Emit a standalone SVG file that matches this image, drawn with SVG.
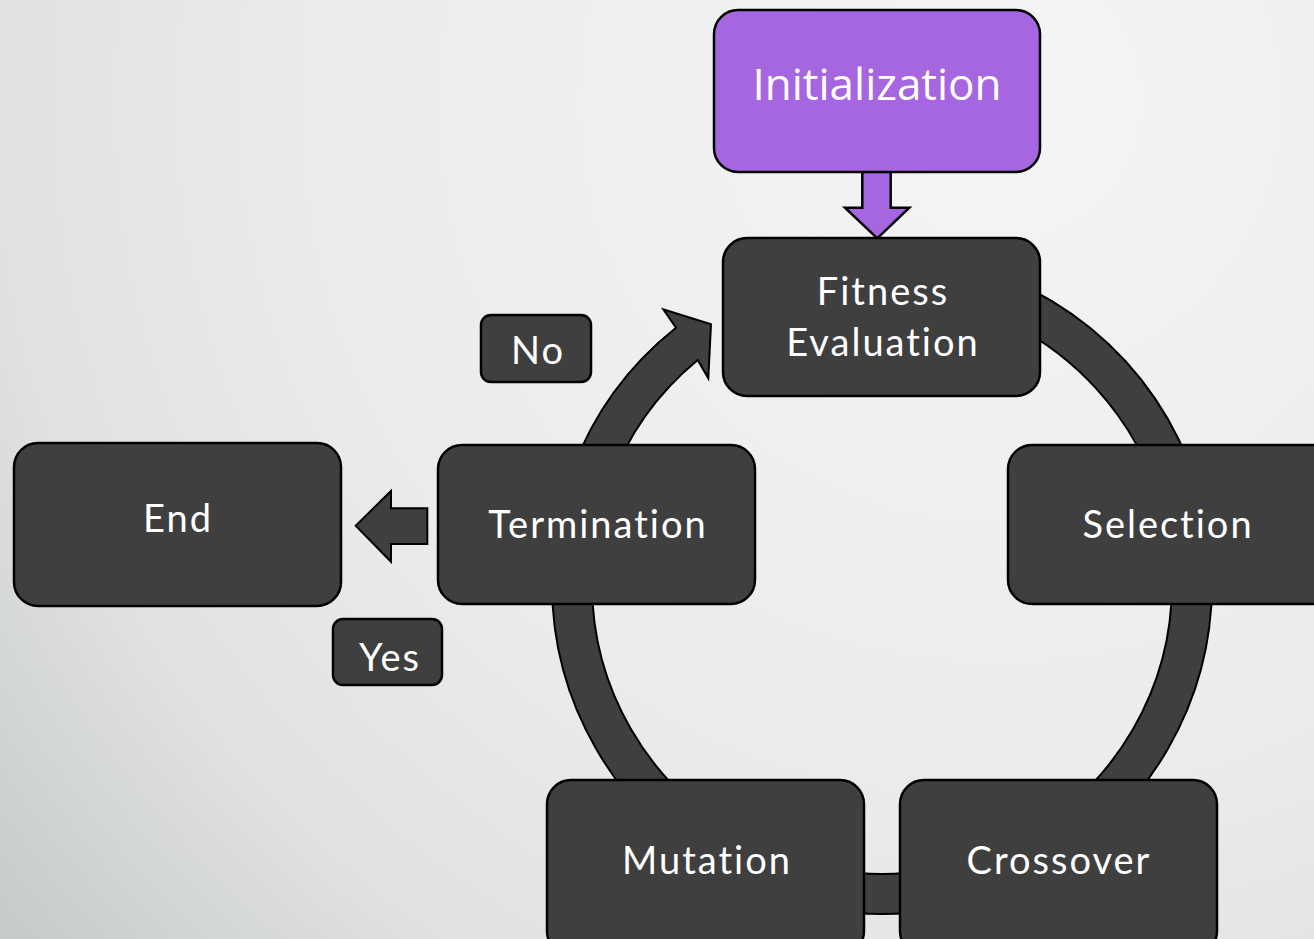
<svg xmlns="http://www.w3.org/2000/svg" width="1314" height="939" viewBox="0 0 1314 939">
<defs>
<radialGradient id="bg" cx="1000" cy="100" r="1400" gradientUnits="userSpaceOnUse">
<stop offset="0" stop-color="#f5f5f5"/>
<stop offset="0.5" stop-color="#ebebeb"/>
<stop offset="0.72" stop-color="#e0e1e1"/>
<stop offset="0.93" stop-color="#c6cacb"/>
<stop offset="1" stop-color="#c2c6c7"/>
</radialGradient>
<style>
.box{fill:#3f3f3f;stroke:#000;stroke-width:2.5}
.seg{fill:#3f3f3f;stroke:#000;stroke-width:2}
.pur{fill:#a566e0;stroke:#000;stroke-width:2.5}
.t{fill:#fff;font-family:Lato,"Liberation Sans",sans-serif;font-size:38px;letter-spacing:2px;text-anchor:middle;font-variant-ligatures:none}
.ti{fill:#fff;font-family:"Open Sans","Liberation Sans",sans-serif;font-size:44px;text-anchor:middle}
</style>
</defs>
<rect width="1314" height="939" fill="url(#bg)"/>
<g id="connectors">
<path class="seg" d="M967.4,265.2 A330,330 0 0 1 1207,526.7 L1167.6,533.7 A290,290 0 0 0 957.1,303.9 Z"/>
<path class="seg" d="M1212,584 A330,330 0 0 1 1047,869.8 L1027,835.1 A290,290 0 0 0 1172,584 Z"/>
<path class="seg" d="M939.3,909 A330,330 0 0 1 824.7,909 L831.7,869.6 A290,290 0 0 0 932.3,869.6 Z"/>
<path class="seg" d="M717,869.8 A330,330 0 0 1 552,584 L592,584 A290,290 0 0 0 737,835.1 Z"/>
<path class="seg" d="M571.9,471.1 A330,330 0 0 1 676,327.7 L663.3,309.3 L711,324.3 L708.3,378.3 L697.7,360 A290,290 0 0 0 609.5,484.8 Z"/>
<path class="pur" d="M862.3,171 L890.7,171 L890.7,207.7 L909.3,207.7 L877.3,238.3 L845,207.7 L862.3,207.7 Z"/>
<path class="seg" d="M355.7,525.7 L391,491 L391,508.3 L427.3,508.3 L427.3,544 L391,544 L391,561.7 Z"/>
</g>
<g id="initialization">
<rect class="pur" x="714" y="10" width="326" height="162" rx="24"/>
<text class="ti" x="877" y="100">Initialization</text>
</g>
<g id="fitness">
<rect class="box" x="723" y="238" width="317" height="158" rx="24"/>
<text class="t" x="883" y="305">Fitness</text>
<text class="t" x="883" y="356">Evaluation</text>
</g>
<g id="selection">
<rect class="box" x="1008" y="445" width="330" height="159" rx="24"/>
<text class="t" x="1168" y="538">Selection</text>
</g>
<g id="crossover">
<rect class="box" x="900" y="780" width="317" height="175" rx="24"/>
<text class="t" x="1059" y="874">Crossover</text>
</g>
<g id="mutation">
<rect class="box" x="547" y="780" width="317" height="175" rx="24"/>
<text class="t" x="707" y="874">Mutation</text>
</g>
<g id="termination">
<rect class="box" x="438" y="445" width="317" height="159" rx="24"/>
<text class="t" x="598" y="538">Termination</text>
</g>
<g id="end">
<rect class="box" x="14" y="443" width="327" height="163" rx="24"/>
<text class="t" x="178" y="532">End</text>
</g>
<g id="no">
<rect class="box" x="481" y="315" width="110" height="67" rx="10"/>
<text class="t" x="538" y="364">No</text>
</g>
<g id="yes">
<rect class="box" x="333" y="619" width="109" height="66" rx="10"/>
<text class="t" x="390" y="671">Yes</text>
</g>
</svg>
